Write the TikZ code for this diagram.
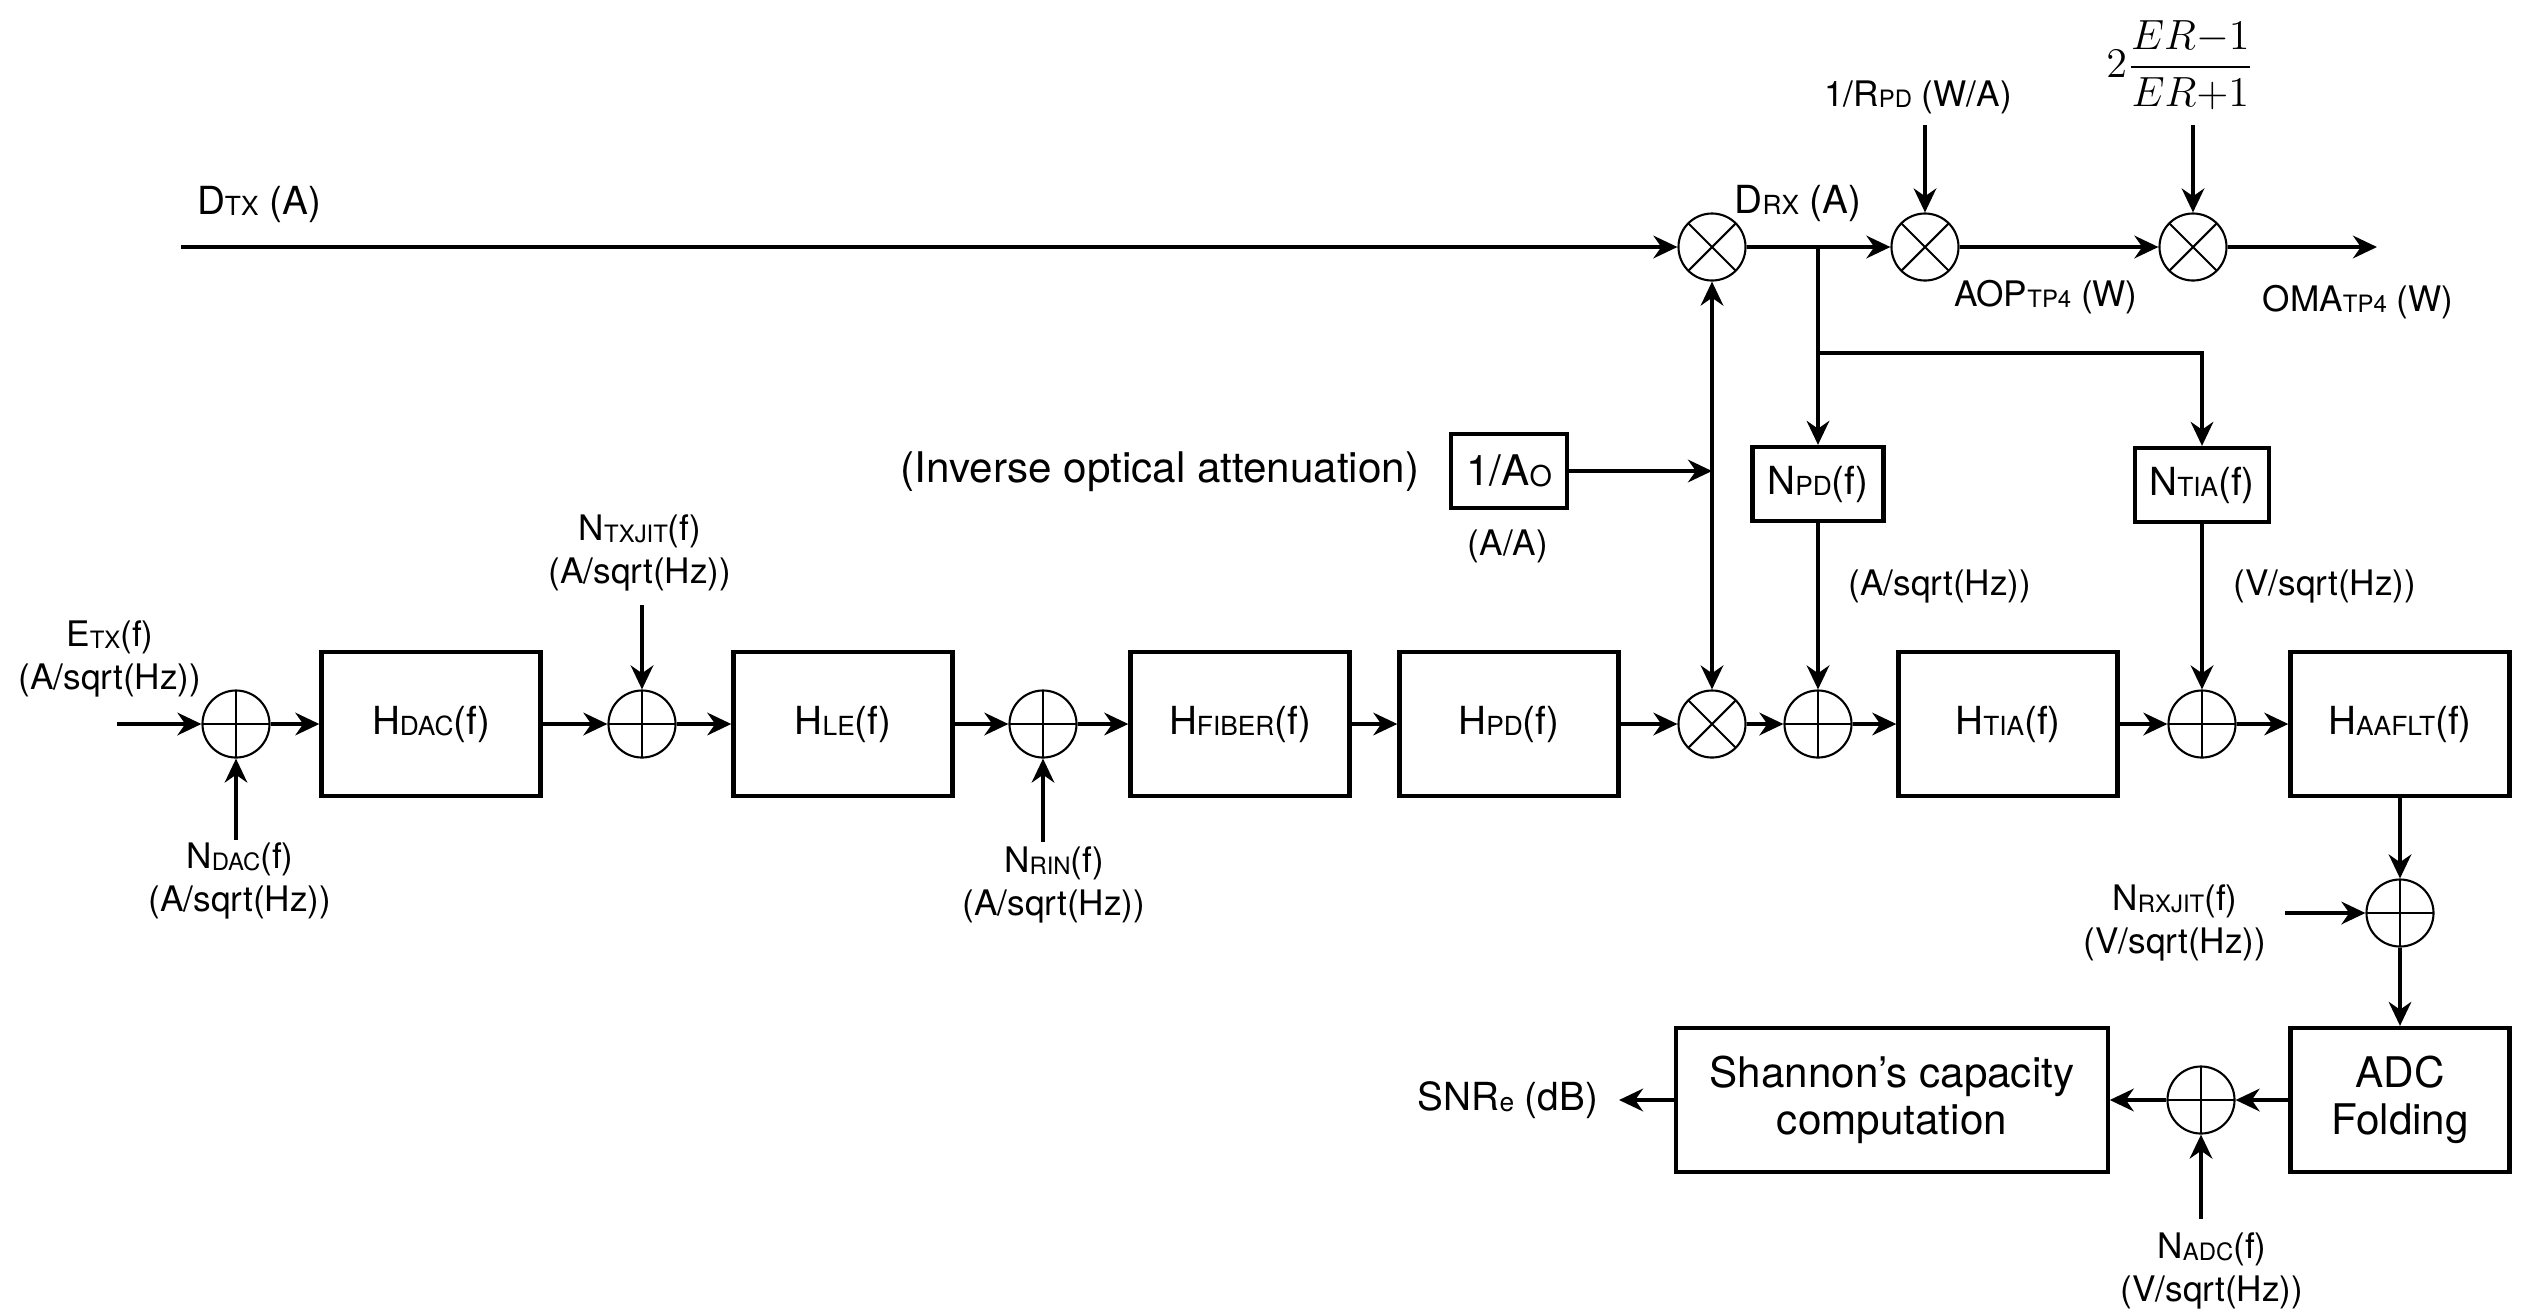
\documentclass[tikz,border=0pt]{standalone}
\usepackage{fontspec}
\setmainfont{TeX Gyre Heros}
\usetikzlibrary{arrows.meta}
\newcommand{\sbs}[1]{\raisebox{-0.4pt}{\scalebox{0.68}{#1}}}
\tikzset{%
    every block/.style={
            draw,
            line width=1.2pt,
            fill=white,
            minimum width=2.19cm,
            minimum height=1.44cm,
            font=\fontsize{11}{13}\selectfont
        },
    noise block/.style={
            draw,
            line width=1.2pt,
            fill=white,
            minimum width=1.31cm,
            minimum height=0.74cm,
            inner sep=0pt,
            font=\fontsize{11}{13}\selectfont
        },
    sum/.style={
            circle,
            draw,
            line width=0.6pt,
            fill=white,
            minimum size=0.67cm,
            inner sep=0pt,
            path picture={\draw [line width=0.6pt]
                (path picture bounding box.north) -- (path picture bounding box.south)
                (path picture bounding box.west) -- (path picture bounding box.east);}
        },
    mult/.style={
            circle,
            draw,
            line width=0.6pt,
            fill=white,
            minimum size=0.67cm,
            inner sep=0pt,
            path picture={\draw [line width=0.6pt]
                (path picture bounding box.north west) -- (path picture bounding box.south east)
                (path picture bounding box.south west) -- (path picture bounding box.north east);}
        },
    unit text/.style={
            inner sep=0pt,
            align=center,
            font=\fontsize{10}{12}\selectfont
        },
    signal text/.style={
            inner sep=0pt,
            font=\fontsize{11}{13}\selectfont
        },
}

\begin{document}
\begin{tikzpicture}[x=0.01cm, y=-0.01cm, line width=1.2pt, >={Stealth[length=6.8pt, width=6.4pt, inset=2.2pt]}]

        \useasboundingbox (0,0) rectangle (2523,1314);

        \foreach \m/\l/\x in {dac/DAC/431, le/LE/843, fiber/FIBER/1240, pd/PD/1509, tia/TIA/2008, aaflt/AAFLT/2400}
        \node [every block] (h-\m) at (\x,724) {H\sbs{\l}(f)};

        \node [every block, align=center, font=\fontsize{12}{13.5}\selectfont] (adc) at (2400,1100) {ADC\\Folding};
        \node [every block, align=center, minimum width=4.31cm, font=\fontsize{12}{13.5}\selectfont] (shannon) at (1892,1100) {Shannon's capacity\\computation};

        \node [noise block] (n-pd) at (1818,484) {N\sbs{PD}(f)};
        \node [noise block, minimum width=1.34cm] (n-tia) at (2202,485) {N\sbs{TIA}(f)};
        \node [noise block, minimum width=1.16cm, font=\fontsize{12}{14}\selectfont] (ao) at (1509,471) {1/A\sbs{O}};

        \foreach \m/\x in {1/236, 2/642, 3/1043, 5/1818, 6/2202}
        \node [sum] (sum-\m) at (\x,724) {};
        \node [sum] (sum-7) at (2400,913) {};
        \node [sum] (sum-8) at (2201,1100) {};

        \foreach \m/\x in {1/1712, 2/1925, 3/2193}
        \node [mult] (mult-\m) at (\x,247) {};
        \node [mult] (mult-4) at (1712,724) {};

        \coordinate (etx-in) at (117,724);
        \coordinate (dtx-in) at (181,247);
        \coordinate (oma-out) at (2377,247);
        \coordinate (snr-out) at (1619,1100);
        \coordinate (ndac-in) at (236,840);
        \coordinate (ntxjit-in) at (642,605);
        \coordinate (nrin-in) at (1043,842);
        \coordinate (nrxjit-in) at (2285,913);
        \coordinate (nadc-in) at (2201,1219);
        \coordinate (rpd-in) at (1925,125);
        \coordinate (er-in) at (2193,125);
        \coordinate (ao-join) at (1712,471);
        \coordinate (drx-split) at (1818,247);
        \coordinate (drx-turn) at (1818,353);

        \foreach \a/\b in {sum-1/h-dac, h-dac/sum-2, sum-2/h-le, h-le/sum-3, sum-3/h-fiber, h-fiber/h-pd,
                h-pd/mult-4, mult-4/sum-5, sum-5/h-tia, h-tia/sum-6, sum-6/h-aaflt, h-aaflt/sum-7,
                sum-7/adc, adc/sum-8, sum-8/shannon, mult-1/mult-2, mult-2/mult-3}
        \draw [->] (\a) -- (\b);

        \foreach \a/\b in {etx-in/sum-1, dtx-in/mult-1, mult-3/oma-out, shannon/snr-out,
                ndac-in/sum-1, ntxjit-in/sum-2, nrin-in/sum-3, nrxjit-in/sum-7, nadc-in/sum-8,
                rpd-in/mult-2, er-in/mult-3, ao/ao-join, ao-join/mult-1, ao-join/mult-4,
                drx-split/n-pd, n-pd/sum-5, n-tia/sum-6}
        \draw [->] (\a) -- (\b);

        \draw [->] (drx-turn) -| (n-tia);

        \node [signal text] (dtx-lbl) at (259,204) {D\sbs{TX} (A)};
        \node [signal text] (drx-lbl) at (1798,203) {D\sbs{RX} (A)};
        \node [signal text] (snr-lbl) at (1508,1100) {SNR\sbs{e} (dB)};
        \node [unit text] (rpd-lbl) at (1918,97) {1/R\sbs{PD} (W/A)};
        \node [unit text] (aop-lbl) at (2046,297) {AOP\sbs{TP4} (W)};
        \node [unit text] (oma-lbl) at (2358,302) {OMA\sbs{TP4} (W)};
        \node [inner sep=0pt, font=\fontsize{11.5}{13}\selectfont] (er-lbl) at (2180,65) {$2{\displaystyle\frac{ER{-}1}{ER{+}1}}$};
        \node [inner sep=0pt, font=\fontsize{12}{14}\selectfont] (inv-lbl) at (1160,472) {(Inverse optical attenuation)};
        \node [unit text] (ao-unit) at (1508,546) {(A/A)};
        \node [unit text] (npd-unit) at (1940,586) {(A/sqrt(Hz))};
        \node [unit text] (ntia-unit) at (2325,586) {(V/sqrt(Hz))};

        \node [unit text] (etx-lbl) at (110,659) {E\sbs{TX}(f)\\(A/sqrt(Hz))};
        \node [unit text] (ntxjit-lbl) at (640,553) {N\sbs{TXJIT}(f)\\(A/sqrt(Hz))};
        \node [unit text] (ndac-lbl) at (240,881) {N\sbs{DAC}(f)\\(A/sqrt(Hz))};
        \node [unit text] (nrin-lbl) at (1054,885) {N\sbs{RIN}(f)\\(A/sqrt(Hz))};
        \node [unit text] (nrxjit-lbl) at (2175,923) {N\sbs{RXJIT}(f)\\(V/sqrt(Hz))};
        \node [unit text] (nadc-lbl) at (2212,1271) {N\sbs{ADC}(f)\\(V/sqrt(Hz))};

    \end{tikzpicture}
\end{document}
